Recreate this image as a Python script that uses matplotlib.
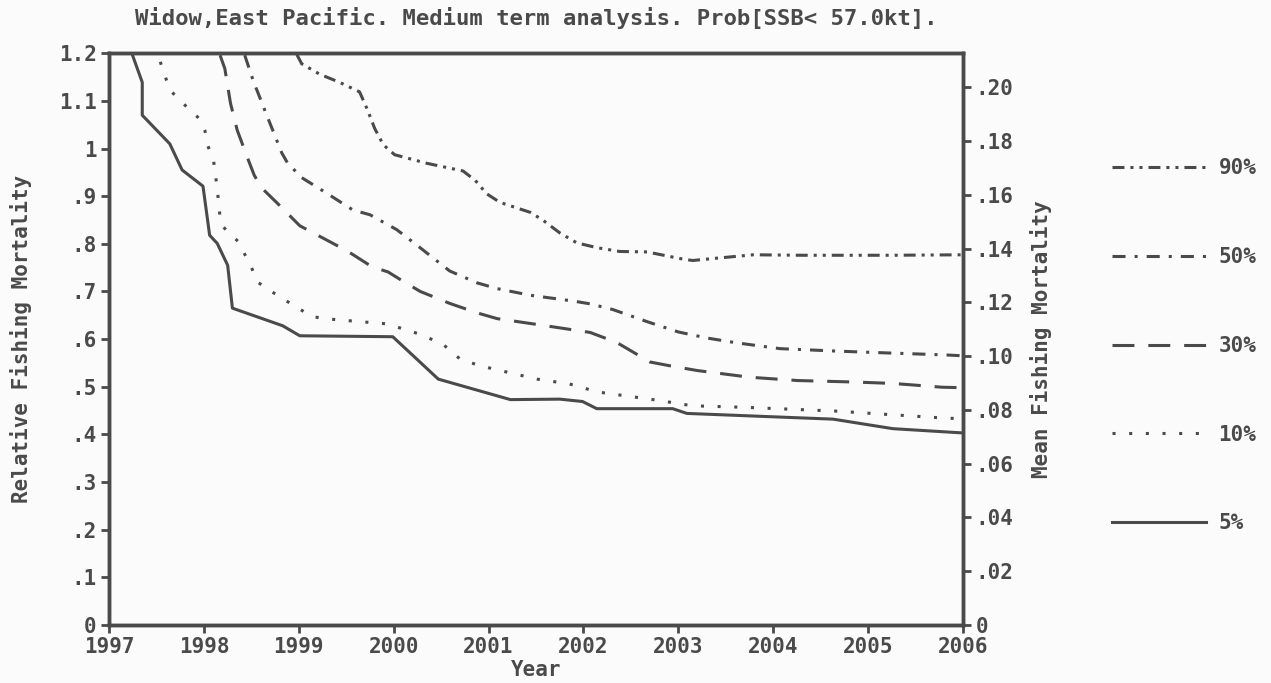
#=========================================================================
import numpy as np
import matplotlib
matplotlib.use('Agg')
import matplotlib.pyplot as plt

#=========================================================================
# values (relative fishing mortality)
year_p90 = [1998.98, 1999.03, 1999.22, 1999.43, 1999.64, 1999.72, 1999.80, 1999.89,
            2000.01, 2000.35, 2000.73, 2000.86, 2000.98, 2001.12, 2001.44, 2001.57,
            2001.75, 2001.93, 2002.14, 2002.38, 2002.67, 2003.02, 2003.15, 2003.41,
            2003.79, 2004.31, 2005.23, 2006.00]
f_p90 = [1.197, 1.178, 1.156, 1.139, 1.119, 1.083, 1.042, 1.008,
         0.987, 0.969, 0.953, 0.933, 0.905, 0.887, 0.866, 0.850,
         0.823, 0.802, 0.792, 0.784, 0.783, 0.769, 0.765, 0.770,
         0.777, 0.776, 0.776, 0.777]

year_p50 = [1998.43, 1998.52, 1998.66, 1998.82, 1998.88, 1999.03, 1999.28, 1999.57,
            1999.75, 2000.03, 2000.22, 2000.59, 2000.88, 2001.09, 2001.44, 2001.89,
            2002.07, 2002.31, 2002.68, 2003.00, 2003.31, 2003.62, 2004.07, 2004.65,
            2005.05, 2005.79, 2006.00]
f_p50 = [1.196, 1.142, 1.071, 0.991, 0.970, 0.939, 0.908, 0.871,
         0.861, 0.830, 0.801, 0.743, 0.718, 0.706, 0.692, 0.680,
         0.674, 0.662, 0.636, 0.615, 0.602, 0.592, 0.580, 0.575,
         0.572, 0.567, 0.565]

year_p30 = [1998.17, 1998.22, 1998.28, 1998.35, 1998.46, 1998.53, 1998.61, 1998.77,
            1999.01, 1999.18, 1999.51, 1999.77, 1999.94, 2000.07, 2000.28, 2000.59,
            2000.88, 2001.09, 2001.57, 2002.07, 2002.35, 2002.70, 2002.91, 2003.20,
            2003.75, 2004.26, 2004.84, 2005.26, 2005.78, 2006.00]
f_p30 = [1.196, 1.168, 1.095, 1.039, 0.980, 0.944, 0.917, 0.886,
         0.838, 0.820, 0.785, 0.752, 0.741, 0.725, 0.700, 0.675,
         0.655, 0.643, 0.629, 0.614, 0.593, 0.552, 0.544, 0.534,
         0.520, 0.513, 0.510, 0.507, 0.499, 0.498]

year_p10 = [1997.54, 1997.64, 1997.80, 1997.95, 1998.01, 1998.04, 1998.10, 1998.14,
            1998.17, 1998.20, 1998.36, 1998.49, 1998.57, 1998.75, 1998.92, 1999.14,
            1999.38, 1999.93, 2000.28, 2000.52, 2000.70, 2000.91, 2001.51, 2001.85,
            2002.15, 2002.77, 2003.15, 2003.68, 2004.65, 2005.82, 2006.00]
f_p10 = [1.182, 1.123, 1.091, 1.063, 1.038, 1.006, 0.977, 0.916,
         0.855, 0.836, 0.805, 0.755, 0.719, 0.695, 0.674, 0.647,
         0.641, 0.632, 0.610, 0.589, 0.558, 0.544, 0.516, 0.506,
         0.489, 0.472, 0.460, 0.457, 0.449, 0.434, 0.433]

year_p05 = [1997.24, 1997.35, 1997.35, 1997.64, 1997.77, 1997.99, 1998.06, 1998.14,
            1998.25, 1998.30, 1998.83, 1999.01, 1999.99, 2000.47, 2001.23, 2001.75,
            2001.99, 2002.14, 2002.94, 2003.09, 2004.63, 2005.26, 2006.00]
f_p05 = [1.200, 1.139, 1.070, 1.010, 0.955, 0.921, 0.818, 0.801,
         0.755, 0.665, 0.628, 0.607, 0.605, 0.516, 0.473, 0.474,
         0.469, 0.454, 0.454, 0.444, 0.432, 0.412, 0.403]

series_labels = ['90%', '50%', '30%', '10%', '5%']

year_ticks = [1997, 1998, 1999, 2000, 2001, 2002, 2003, 2004, 2005, 2006]
left_ticks = [0.0, 0.1, 0.2, 0.3, 0.4, 0.5, 0.6, 0.7, 0.8, 0.9, 1.0, 1.1, 1.2]
left_ticklabels = ['0', '.1', '.2', '.3', '.4', '.5', '.6', '.7', '.8', '.9', '1', '1.1', '1.2']
right_ticks = [0.0, 0.02, 0.04, 0.06, 0.08, 0.10, 0.12, 0.14, 0.16, 0.18, 0.20]
right_ticklabels = ['0', '.02', '.04', '.06', '.08', '.10', '.12', '.14', '.16', '.18', '.20']
right_top = 0.2127

#=========================================================================
ink = '#4a4a4a'
fontname = 'DejaVu Sans Mono'
plt.rcParams['font.family'] = fontname
plt.rcParams['font.weight'] = 'bold'
plt.rcParams['axes.labelweight'] = 'bold'
plt.rcParams['lines.scale_dashes'] = False

fig = plt.figure(figsize=(12.71, 6.83), dpi=100)
fig.patch.set_facecolor('#fbfbfb')
ax = fig.add_axes([0.0858, 0.085, 0.6719, 0.837])
ax.set_facecolor('#fbfbfb')

lw = 2.2
styles = [
  dict(dashes=[8.6, 4.3, 2.2, 4.3, 2.2, 4.3]),
  dict(dashes=[9.4, 6.5, 2.2, 6.5]),
  dict(dashes=[15.8, 10.0]),
  dict(dashes=[2.2, 9.8]),
  dict(linestyle='-'),
]
xs = [year_p90, year_p50, year_p30, year_p10, year_p05]
ys = [f_p90, f_p50, f_p30, f_p10, f_p05]

lines = []
for x, y, lab, st in zip(xs, ys, series_labels, styles):
  ln, = ax.plot(x, y, color=ink, lw=lw, label=lab, dash_capstyle='butt',
                solid_joinstyle='round', **st)
  lines.append(ln)

ax.set_xlim(1997, 2006)
ax.set_ylim(0, 1.2)
ax.set_xticks(year_ticks)
ax.set_xticklabels([str(y) for y in year_ticks])
ax.set_yticks(left_ticks)
ax.set_yticklabels(left_ticklabels)
for s in ax.spines.values():
  s.set_linewidth(2.5)
  s.set_color(ink)
ax.tick_params(direction='out', length=6, width=2, color=ink, labelsize=15,
               labelcolor=ink, pad=3)

ax2 = ax.twinx()
ax2.set_ylim(0, right_top)
ax2.set_yticks(right_ticks)
ax2.set_yticklabels(right_ticklabels)
ax2.tick_params(direction='out', length=6, width=2, color=ink, labelsize=15,
                labelcolor=ink, pad=3)
for s in ax2.spines.values():
  s.set_linewidth(2.5)
  s.set_color(ink)

ax.set_ylabel('Relative Fishing Mortality', fontsize=15, color=ink, labelpad=19)
ax2.set_ylabel('Mean Fishing Mortality', fontsize=15, color=ink, labelpad=12)
fig.text(0.4217, 0.004, 'Year', fontsize=15, color=ink, ha='center', va='bottom')
fig.text(0.4217, 0.974, 'Widow,East Pacific. Medium term analysis. Prob[SSB< 57.0kt].',
         fontsize=16, color=ink, ha='center', va='center')

leg = fig.legend(handles=lines, loc='upper left', bbox_to_anchor=(0.875, 0.768),
                 frameon=False, fontsize=15, handlelength=4.5, handletextpad=0.6,
                 labelspacing=3.3, borderpad=0, borderaxespad=0)
for t in leg.get_texts():
  t.set_color(ink)

plt.savefig('out.png', dpi=100, facecolor=fig.get_facecolor())
